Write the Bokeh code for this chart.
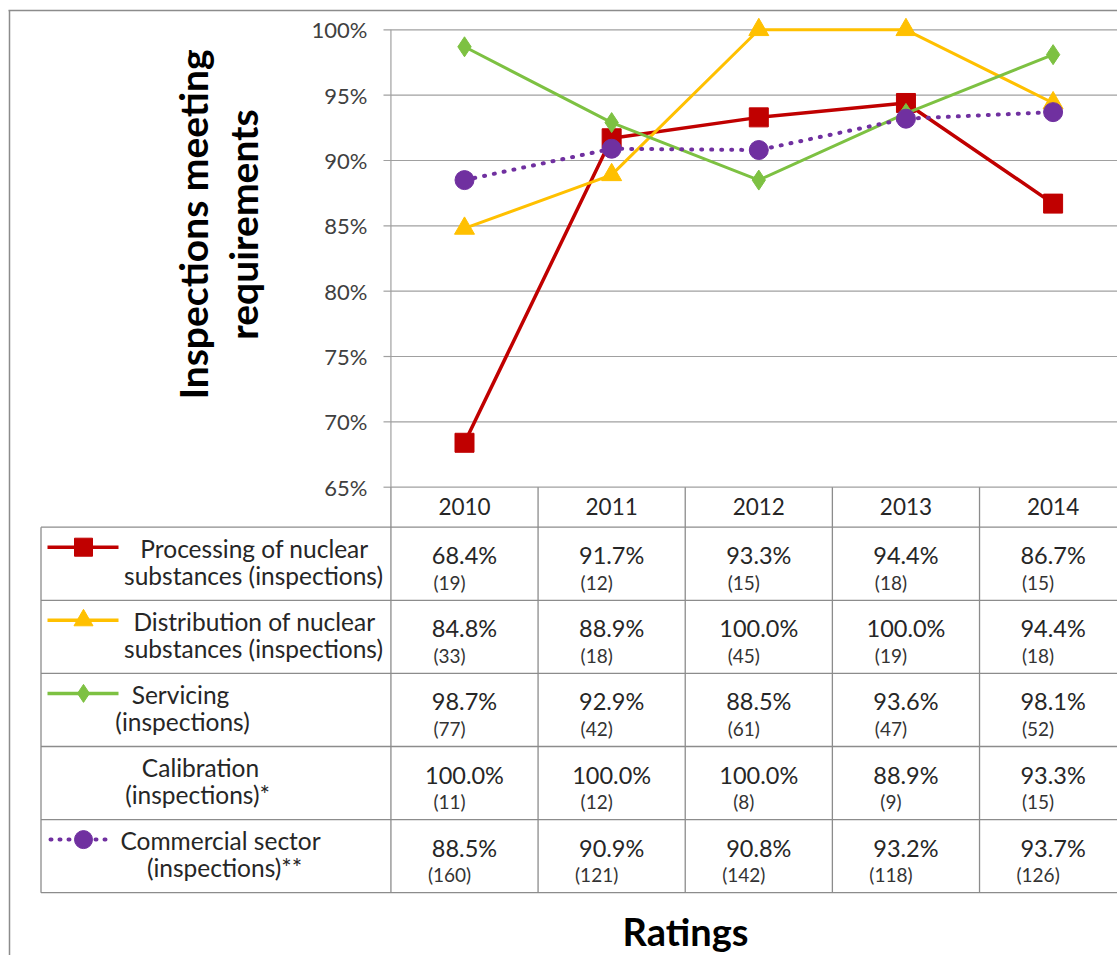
import math
from bokeh.plotting import figure
from bokeh.models import Range1d
from bokeh.core.properties import value
from bokeh.embed import file_html
from bokeh.resources import INLINE

# ---------------- data ----------------
years = ["2010", "2011", "2012", "2013", "2014"]

processing = [68.4, 91.7, 93.3, 94.4, 86.7]
processing_n = [19, 12, 15, 18, 15]
distribution = [84.8, 88.9, 100.0, 100.0, 94.4]
distribution_n = [33, 18, 45, 19, 18]
servicing = [98.7, 92.9, 88.5, 93.6, 98.1]
servicing_n = [77, 42, 61, 47, 52]
calibration = [100.0, 100.0, 100.0, 88.9, 93.3]
calibration_n = [11, 12, 8, 9, 15]
commercial = [88.5, 90.9, 90.8, 93.2, 93.7]
commercial_n = [160, 121, 142, 118, 126]

row_labels = [
    ["Processing of nuclear", "substances (inspections)"],
    ["Distribution of nuclear", "substances (inspections)"],
    ["Servicing", "(inspections)"],
    ["Calibration", "(inspections)*"],
    ["Commercial sector", "(inspections)**"],
]
y_ticks = [65, 70, 75, 80, 85, 90, 95, 100]
y_tick_labels = ["65%", "70%", "75%", "80%", "85%", "90%", "95%", "100%"]
y_title = ["Inspections meeting", "requirements"]
x_title = "Ratings"

# ---------------- layout / style ----------------
W, H = 1117, 955
FONT = value("Lato")
RED, YELLOW, GREEN, PURPLE = "#C00000", "#FFC000", "#7DC142", "#7030A0"
GRID = "#a0a0a0"
TXT = "#262626"

col_w = 147.15          # pixels per category
x0_canvas = 464.0       # canvas x of first category
y100, y65 = 29.3, 486.7  # canvas y of 100% and 65%
ppu = (y65 - y100) / 35.0

xs = -x0_canvas / col_w
xe = xs + W / col_w
ye = 100 + y100 / ppu
ys = ye - H / ppu

p = figure(width=W, height=H, x_range=Range1d(xs, xe), y_range=Range1d(ys, ye),
           output_backend="svg", toolbar_location=None, min_border=0,
           x_axis_type=None, y_axis_type=None)
p.outline_line_color = None
p.background_fill_color = "white"
p.border_fill_color = "white"
p.extra_x_ranges = {"px": Range1d(0, W)}
p.extra_y_ranges = {"px": Range1d(H, 0)}

idx = list(range(len(years)))

# outer border (chart area edge)
p.segment(x0=[8, 9], y0=[10, 10], x1=[W, 9], y1=[10, H], x_range_name="px",
          y_range_name="px", line_color="#8c8c8c", line_width=1.5)

# gridlines
p.segment(x0=[-0.5] * len(y_ticks), y0=y_ticks, x1=[xe] * len(y_ticks), y1=y_ticks,
          line_color=GRID, line_width=1.2)
# tick marks
p.segment(x0=[383] * len(y_ticks), y0=y_ticks, x1=[390.5] * len(y_ticks), y1=y_ticks,
          x_range_name="px", line_color=GRID, line_width=1.2)
# axis line
p.segment(x0=[-0.5], y0=[65], x1=[-0.5], y1=[100], line_color=GRID, line_width=1.2)
# tick labels
p.text(x=[367] * len(y_ticks), y=y_ticks, text=y_tick_labels, x_range_name="px",
       text_align="right", text_baseline="middle", text_font=FONT,
       text_font_size="22px", text_color="#404040")

# y title
p.text(x=[192, 242], y=[224, 224], text=y_title, x_range_name="px", y_range_name="px",
       angle=math.pi / 2, text_align="center", text_baseline="middle",
       text_font=FONT, text_font_size="39px", text_font_style="bold", text_color="black")

# ---------------- series lines ----------------
p.line(idx, processing, line_color=RED, line_width=3.5)
p.scatter(idx, processing, marker="square", size=19, fill_color=RED, line_color=RED)

p.line(idx, distribution, line_color=YELLOW, line_width=3)
p.scatter(idx, distribution, marker="triangle", size=20, fill_color=YELLOW, line_color=YELLOW)

p.line(idx, servicing, line_color=GREEN, line_width=3)
p.scatter(idx, servicing, marker="diamond", size=20, fill_color=GREEN, line_color=GREEN)

p.line(idx, commercial, line_color=PURPLE, line_width=4, line_dash="1 9", line_cap="round")
p.scatter(idx, commercial, marker="circle", size=19, fill_color=PURPLE, line_color=PURPLE)

# ---------------- data table ----------------
table_top = y65
header_bottom = 526.7
row_h = 73.1
row_tops = [header_bottom + r * row_h for r in range(5)]
table_bottom = header_bottom + 5 * row_h
tbl_col = "#8c8c8c"
tbl_left = 40.5

# horizontal lines
hy = [header_bottom + r * row_h for r in range(6)]
p.segment(x0=[tbl_left] * 6, y0=hy, x1=[W] * 6, y1=hy, x_range_name="px", y_range_name="px",
          line_color=tbl_col, line_width=1.3)
# left border of legend column
p.segment(x0=[tbl_left], y0=[header_bottom], x1=[tbl_left], y1=[table_bottom], x_range_name="px",
          y_range_name="px", line_color=tbl_col, line_width=1.3)
# vertical column dividers
vx = [i - 0.5 for i in idx]
p.segment(x0=vx, y0=[table_top] * len(vx), x1=vx, y1=[table_bottom] * len(vx),
          y_range_name="px", line_color=tbl_col, line_width=1.3)

# year header
p.text(x=idx, y=[506] * len(idx), text=years, y_range_name="px", text_align="center",
       text_baseline="middle", text_font=FONT, text_font_size="22.5px", text_color=TXT)

series_vals = [processing, distribution, servicing, calibration, commercial]
series_n = [processing_n, distribution_n, servicing_n, calibration_n, commercial_n]
for r in range(5):
    top = row_tops[r]
    p.text(x=idx, y=[top + 28] * len(idx), text=[f"{v:.1f}%" for v in series_vals[r]],
           y_range_name="px", text_align="center", text_baseline="middle",
           text_font=FONT, text_font_size="23.5px", text_color=TXT)
    p.text(x=idx, y=[top + 55] * len(idx), text=[f"({n})" for n in series_n[r]],
           y_range_name="px", x_offset=-15, text_align="center", text_baseline="middle",
           text_font=FONT, text_font_size="19px", text_color="#333333")

# legend labels in table
label_cx = [(254, 253), (254, 253), (180, 182), (200, 197), (220, 224)]
for r in range(5):
    top = row_tops[r]
    p.text(x=list(label_cx[r]), y=[top + 21, top + 48], text=row_labels[r],
           x_range_name="px", y_range_name="px", text_align="center",
           text_baseline="middle", text_font=FONT, text_font_size="24.5px", text_color=TXT)

# legend keys
key_specs = [(0, RED, "square", 18, None), (1, YELLOW, "triangle", 19, None),
             (2, GREEN, "diamond", 18, None), (4, PURPLE, "circle", 18, "1 8")]
for r, col, mk, sz, dash in key_specs:
    ky = row_tops[r] + 20
    if dash:
        p.segment(x0=[50], y0=[ky], x1=[109], y1=[ky], x_range_name="px", y_range_name="px",
                  line_color=col, line_width=4, line_dash=dash, line_cap="round")
    else:
        p.segment(x0=[47], y0=[ky], x1=[118], y1=[ky], x_range_name="px", y_range_name="px",
                  line_color=col, line_width=3.5)
    p.scatter(x=[83], y=[ky], marker=mk, size=sz, fill_color=col, line_color=col,
              x_range_name="px", y_range_name="px")

# x title
p.text(x=[685], y=[930], text=[x_title], x_range_name="px", y_range_name="px",
       text_align="center", text_baseline="middle", text_font=FONT,
       text_font_size="38px", text_font_style="bold", text_color="black")

open("out.html", "w").write(file_html(p, INLINE))
